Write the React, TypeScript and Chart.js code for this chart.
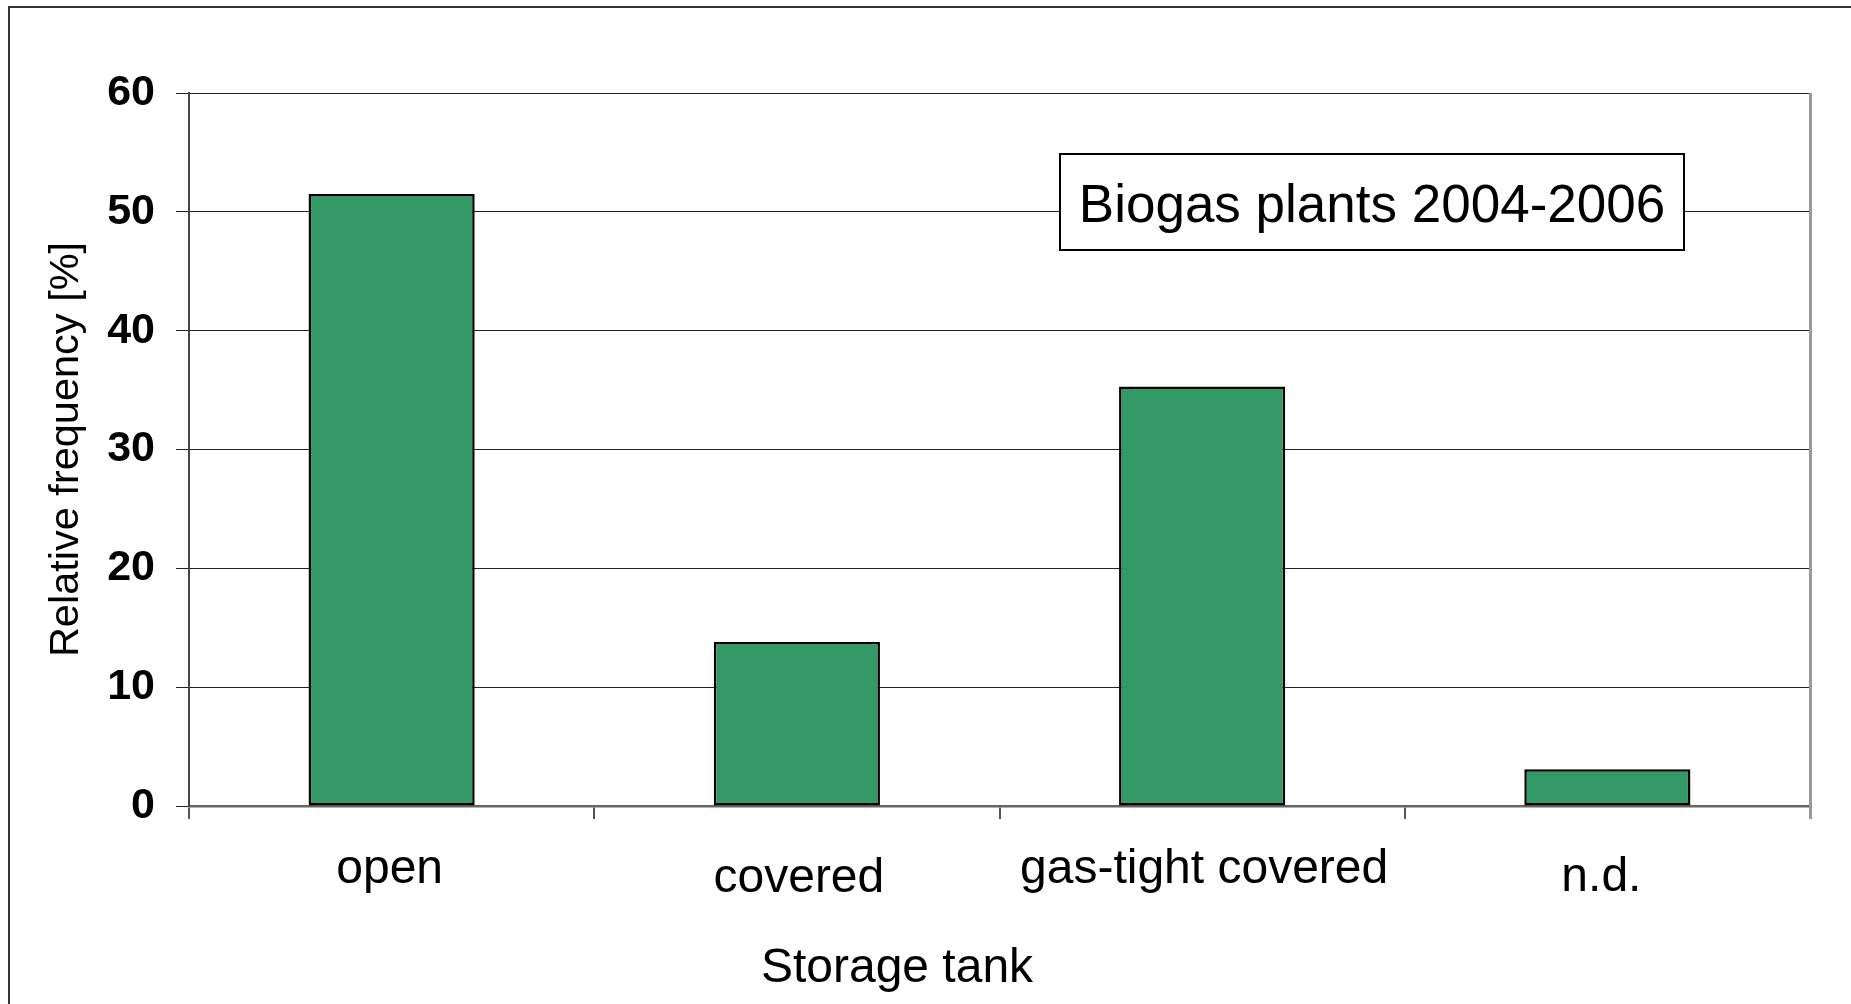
import React, { useEffect, useRef } from "react";
import { Chart, registerables } from "chart.js";

Chart.register(...registerables);

const categories = ["open", "covered", "gas-tight covered", "n.d."];
const relativeFrequency = [51.5, 13.8, 35.3, 3.1];
const yTickValues = [0, 10, 20, 30, 40, 50, 60];
const xAxisTitle = "Storage tank";
const yAxisTitle = "Relative frequency [%]";
const boxLabel = "Biogas plants 2004-2006";

const FONT = '"Liberation Sans", Arial, Helvetica, sans-serif';
// baseline distance of each category label below the x axis (staggered as in the original)
const labelDrop = [77, 86, 77, 85];
const labelShift = [-2, 2, 2, -6];

export default function App() {
  const ref = useRef<HTMLCanvasElement | null>(null);

  useEffect(() => {
    if (!ref.current) return;

    const decor = {
      id: "decor",
      afterDraw(chart: any) {
        const { ctx, chartArea, scales } = chart;
        ctx.save();
        // outer frame (left + top edges visible)
        ctx.strokeStyle = "#333";
        ctx.lineWidth = 2;
        ctx.beginPath();
        ctx.moveTo(9, 1010);
        ctx.lineTo(9, 7);
        ctx.lineTo(1860, 7);
        ctx.stroke();

        // right border of plot area
        ctx.strokeStyle = "#999";
        ctx.lineWidth = 3;
        ctx.beginPath();
        ctx.moveTo(chartArea.right + 0.5, chartArea.top);
        ctx.lineTo(chartArea.right + 0.5, chartArea.bottom + 13);
        ctx.stroke();

        // category labels
        ctx.fillStyle = "#000";
        ctx.font = `48px ${FONT}`;
        ctx.textAlign = "center";
        ctx.textBaseline = "alphabetic";
        categories.forEach((c, i) => {
          ctx.fillText(c, scales.x.getPixelForValue(i) + labelShift[i], chartArea.bottom + labelDrop[i]);
        });

        // x axis title
        ctx.fillText(xAxisTitle, 897, 982);

        // annotation box
        ctx.fillStyle = "#fff";
        ctx.fillRect(1060, 154, 624, 96);
        ctx.strokeStyle = "#000";
        ctx.lineWidth = 2;
        ctx.strokeRect(1060, 154, 624, 96);
        ctx.fillStyle = "#000";
        ctx.font = `53px ${FONT}`;
        ctx.fillText(boxLabel, 1372, 222);
        ctx.restore();
      },
    };

    const chart = new Chart(ref.current, {
      type: "bar",
      data: {
        labels: categories,
        datasets: [
          {
            data: relativeFrequency,
            backgroundColor: "#339966",
            borderColor: "#000",
            borderWidth: 2.5,
            borderSkipped: false,
            barPercentage: 0.41,
            categoryPercentage: 1,
          },
        ],
      },
      options: {
        responsive: false,
        animation: false,
        devicePixelRatio: 1,
        layout: { padding: { left: 8, top: 93, right: 41, bottom: 0 } },
        plugins: {
          legend: { display: false },
          tooltip: { enabled: false },
        },
        scales: {
          x: {
            offset: true,
            afterFit: (s: any) => {
              s.height = 198;
            },
            grid: {
              display: true,
              offset: true,
              drawOnChartArea: false,
              drawTicks: true,
              tickLength: 13,
              color: "#555",
              lineWidth: 2,
            },
            border: { display: true, color: "#666", width: 2.5 },
            ticks: { display: false },
          },
          y: {
            min: 0,
            max: 60,
            afterFit: (s: any) => {
              s.width = 181;
            },
            afterBuildTicks: (s: any) => {
              s.ticks = yTickValues.map((v) => ({ value: v }));
            },
            grid: {
              color: "#222",
              lineWidth: 1,
              drawTicks: true,
              tickLength: 13,
            },
            border: { display: true, color: "#444", width: 2 },
            ticks: {
              padding: 21,
              color: "#000",
              font: { family: FONT, size: 43, weight: "bold" },
            },
            title: {
              display: true,
              text: yAxisTitle,
              color: "#000",
              font: { family: FONT, size: 41.5 },
              padding: { top: 34, bottom: 0 },
            },
          },
        },
      },
      plugins: [decor],
    });

    return () => chart.destroy();
  }, []);

  return (
    <div style={{ position: "fixed", left: 0, top: 0, width: 1851, height: 1004, background: "#fff" }}>
      <canvas ref={ref} width={1851} height={1004} style={{ display: "block" }} />
    </div>
  );
}
